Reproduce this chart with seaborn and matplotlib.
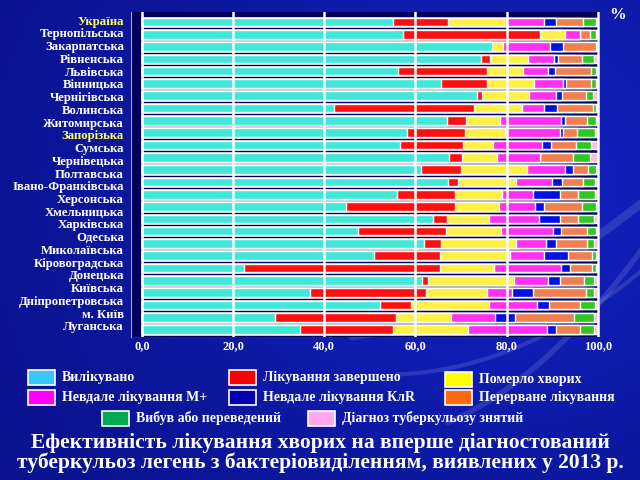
import numpy as np
import pandas as pd
import seaborn as sns
import matplotlib.pyplot as plt
from matplotlib.patches import Rectangle

# row labels as printed on the slide (the chart has 26 bars, the label list only 25)
regions = ["Україна", "Тернопільська", "Закарпатська", "Рівненська", "Львівська",
           "Вінницька", "Чернігівська", "Волинська", "Житомирська", "Запорізька",
           "Сумська", "Чернівецька", "Полтавська", "Івано-Франківська", "Херсонська",
           "Хмельницька", "Харківська", "Одеська", "Миколаївська", "Кіровоградська",
           "Донецька", "Київська", "Дніпропетровська", "м. Київ", "Луганська"]
highlighted = ["Україна", "Запорізька"]

# shares in %, one value per bar, top to bottom
cured = [55.0, 57.3, 76.7, 74.3, 56.2, 65.7, 73.6, 42.1, 67.0, 58.2, 56.6, 67.4, 61.2,
         67.2, 56.0, 44.7, 63.9, 47.3, 61.9, 50.9, 22.4, 61.5, 36.8, 52.2, 29.3, 34.6]
completed = [12.1, 30.0, 0.0, 2.0, 19.6, 10.1, 1.1, 30.8, 4.0, 12.6, 13.9, 2.9, 8.9,
             2.1, 12.6, 23.9, 3.1, 19.4, 3.7, 14.5, 43.0, 1.3, 25.5, 6.9, 26.4, 20.4]
died = [12.7, 5.6, 2.5, 8.4, 7.8, 10.2, 10.2, 10.5, 7.5, 8.8, 6.5, 7.7, 14.3,
        12.7, 10.5, 9.8, 9.1, 12.0, 16.4, 15.3, 11.9, 18.8, 13.5, 17.1, 12.0, 16.6]
failed_mplus = [8.4, 3.2, 10.3, 5.7, 5.5, 6.3, 5.9, 4.8, 13.5, 12.1, 10.7, 9.4, 8.4,
                8.0, 6.7, 7.8, 11.0, 11.5, 6.6, 7.5, 14.6, 7.5, 5.5, 10.4, 9.7, 17.2]
failed_klr = [2.6, 0.0, 2.9, 0.8, 1.6, 0.7, 1.3, 2.9, 0.9, 0.6, 2.1, 0.0, 1.7,
              2.1, 6.0, 2.0, 4.7, 1.8, 2.3, 5.3, 2.0, 2.6, 4.4, 2.7, 4.4, 2.0]
interrupted = [5.9, 2.1, 7.2, 5.4, 7.8, 5.6, 5.3, 7.9, 4.8, 3.2, 5.4, 7.2, 3.4,
               4.7, 3.9, 8.4, 3.8, 5.7, 6.8, 5.3, 4.9, 5.3, 11.8, 6.8, 13.1, 5.4]
transferred = [2.9, 1.5, 0.0, 2.6, 1.2, 1.1, 1.6, 0.7, 2.0, 3.8, 3.4, 3.8, 1.8,
               2.6, 3.6, 3.1, 3.6, 2.0, 1.4, 0.9, 0.9, 2.1, 1.6, 3.2, 4.2, 2.9]
dx_removed = [0.3, 0.3, 0.4, 0.8, 0.3, 0.3, 1.0, 0.3, 0.3, 0.7, 1.4, 1.6, 0.3,
              0.6, 0.7, 0.3, 0.8, 0.3, 0.9, 0.3, 0.3, 0.9, 0.9, 0.7, 0.9, 0.9]

outcomes = ["Вилікувано", "Лікування завершено", "Померло хворих",
            "Невдале лікування М+", "Невдале лікування КлR", "Перерване лікування",
            "Вибув або переведений", "Діагноз туберкульозу знятий"]
bar_colors = ["#40E8D8", "#FF1010", "#FFF044", "#FF30F0", "#0010E0", "#F08050", "#30C820", "#F8C0D8"]
legend_colors = ["#38C8F8", "#FF0000", "#FFFF00", "#FF00FF", "#0000B0", "#FF6A10", "#00A850", "#FFA8F0"]
xticks = [0, 20, 40, 60, 80, 100]
xtick_labels = ["0,0", "20,0", "40,0", "60,0", "80,0", "100,0"]

title = ("Ефективність лікування хворих на вперше діагностований\n"
         "туберкульоз легень з бактеріовиділенням, виявлених у 2013 р.")

df = pd.DataFrame(dict(zip(outcomes, [cured, completed, died, failed_mplus, failed_klr,
                                      interrupted, transferred, dx_removed])))
df["bar"] = [f"b{i:02d}" for i in range(len(df))]
cum = df[outcomes].cumsum(axis=1)
cum["bar"] = df["bar"]

sns.set_style("dark")
plt.rcParams["font.family"] = ["Liberation Serif", "DejaVu Serif"]
plt.rcParams["font.weight"] = "bold"

W, H = 640, 480
fig = plt.figure(figsize=(6.4, 4.8), dpi=100)

# slide background: royal blue with a soft glow and a few pale streaks
bg = fig.add_axes([0, 0, 1, 1], zorder=-10)
yy, xx = np.mgrid[0:1:240j, 0:1:320j]
glow = np.exp(-((xx - 0.75) ** 2 / 0.3 + (yy - 0.4) ** 2 / 0.4))
rgb = np.zeros((240, 320, 3))
rgb[..., 0] = 0.04 + 0.03 * glow
rgb[..., 1] = 0.07 + 0.06 * glow
rgb[..., 2] = 0.55 + 0.20 * glow
bg.imshow(rgb, aspect="auto", extent=[0, 1, 0, 1])
t = np.linspace(0, 1, 50)
for a, b, c, lw in [(0.55, 0.30, 0.08, 6), (0.70, 0.12, 0.20, 4), (0.62, 0.22, 0.02, 3)]:
    bg.plot(a + (1.05 - a) * t, b + c * t + 0.25 * t ** 2, color="white",
            alpha=0.12, lw=lw, solid_capstyle="round")
bg.set_xlim(0, 1)
bg.set_ylim(0, 1)
bg.axis("off")

ax = fig.add_axes([131 / W, 1 - 337 / H, 469 / W, 325 / H])
ax.set_facecolor("#00005C")

# stacked bars: draw cumulative totals from the outermost segment inwards
for col, color in reversed(list(zip(outcomes, bar_colors))):
    sns.barplot(data=cum, x=col, y="bar", orient="h", order=list(df["bar"]),
                color=color, saturation=1, width=0.7, errorbar=None, ax=ax)

ax.set_xlim(-2.4, 100.5)
ax.set_ylim(25.6, -0.81)
ax.set_xticks(xticks)
ax.set_xticklabels(xtick_labels, color="white", fontsize=9, fontweight="bold")
ax.set_yticks(np.linspace(-0.15, 24.7, len(regions)))
ax.set_yticklabels(regions, fontsize=9.2, fontweight="bold")
for lab in ax.get_yticklabels():
    lab.set_color("#FFFF66" if lab.get_text() in highlighted else "white")
ax.tick_params(axis="y", length=0, pad=5)
ax.tick_params(axis="x", length=0, pad=2)
ax.set_xlabel("")
ax.set_ylabel("")
ax.set_axisbelow(False)
ax.grid(False)
for x in xticks:
    ax.axvline(x, color="white", lw=1.8, zorder=5)
for s in ["top", "right", "bottom"]:
    ax.spines[s].set_visible(False)
ax.spines["left"].set_color("#A0A8D8")
ax.spines["left"].set_linewidth(0.8)

fig.text(618 / W, 1 - 15 / H, "%", color="white", fontsize=12, fontweight="bold",
         ha="center", va="center")

# legend, laid out like the slide
legend_pos = [(28, 377), (229, 377), (445, 379), (28, 397), (229, 397), (445, 397),
              (102, 418), (308, 418)]
for (px, py), name, color in zip(legend_pos, outcomes, legend_colors):
    fig.patches.append(Rectangle((px / W, 1 - (py + 7.5) / H), 27 / W, 15 / H,
                                 transform=fig.transFigure, facecolor=color,
                                 edgecolor="white", lw=1.2))
    fig.text((px + 34) / W, 1 - py / H, name, color="white", fontsize=10,
             fontweight="bold", va="center", ha="left")

fig.text(0.5, 1 - 453 / H, title, color="white", fontsize=15.5, fontweight="bold",
         ha="center", va="center", linespacing=1.0)

plt.savefig("out.png", dpi=100, facecolor=fig.get_facecolor())
